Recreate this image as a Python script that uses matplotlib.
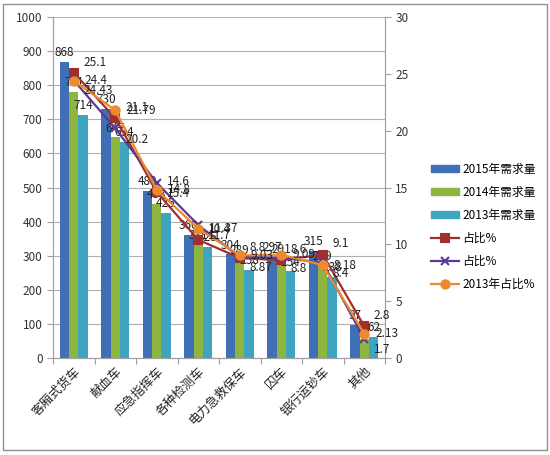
import numpy as np
import matplotlib.pyplot as plt
from matplotlib.patches import Rectangle
from matplotlib.lines import Line2D

plt.rcParams['font.family'] = ['Noto Sans CJK SC', 'DejaVu Sans']

# Categories and demand values
categories = ['客厢式货车', '献血车', '应急指挥车', '各种检测车',
              '电力急救保车', '囚车', '银行运钞车', '其他']
demand_2015 = [868, 730, 489, 360, 304, 297, 315, 97]
demand_2014 = [781, 647, 453, 331, 289, 291, 269, 55]
demand_2013 = [714, 634, 425, 325, 258, 254, 238, 62]

# Share (%) series
share_2015 = [25.1, 21.1, 14.6, 10.4, 8.8, 8.6, 9.1, 2.8]
share_2014 = [24.43, 20.2, 15.4, 11.7, 8.87, 8.8, 8.4, 1.7]
share_2013 = [24.4, 21.79, 14.8, 11.37, 9.03, 9.09, 8.18, 2.13]

bar_colors = ['#3F6FB5', '#8DB53F', '#3FA4C0']
line_colors = ['#A0302D', '#5B3A96', '#EE8A2E']

fig = plt.figure(figsize=(5.5, 4.55), dpi=100)
ax = fig.add_axes([0.0964, 0.2132, 0.6036, 0.7494])
ax2 = ax.twinx()

x = np.arange(len(categories))
w = 0.225

bar_sets = [demand_2015, demand_2014, demand_2013]
bar_names = ['2015年需求量', '2014年需求量', '2013年需求量']
for i, (vals, col) in enumerate(zip(bar_sets, bar_colors)):
    pos = x + (i - 1) * w
    ax.bar(pos, vals, width=w, color=col, zorder=2)
    for px, v in zip(pos, vals):
        ax.annotate(str(v), (px, v), xytext=(0, 2), textcoords='offset points',
                    ha='center', va='bottom', fontsize=8.5, color='#222222', zorder=5)

ax.set_xlim(-0.5, len(categories) - 0.5)
ax.set_ylim(0, 1000)
ax.set_yticks(range(0, 1001, 100))
ax.yaxis.grid(True, color='#B0B0B0', linewidth=0.8, zorder=0)
ax.set_axisbelow(True)
ax.set_xticks(np.arange(len(categories) + 1) - 0.5, minor=False)
ax.set_xticklabels([])
ax.set_xticks(x, minor=True)
ax.set_xticklabels(categories, minor=True, rotation=45, ha='right',
                   rotation_mode='anchor', fontsize=9, color='#222222')
ax.tick_params(axis='x', which='minor', length=0, pad=5)
ax.tick_params(axis='x', which='major', length=4, color='#A0A0A0')
ax.tick_params(axis='y', length=4, color='#A0A0A0', labelsize=8.5, labelcolor='#333333')

share_sets = [share_2015, share_2014, share_2013]
share_names = ['占比%', '占比%', '2013年占比%']
markers = ['s', 'x', 'o']
# label placement per line: (offset, vertical alignment)
label_pos = [((7, 3), 'bottom'), ((7, -3), 'top'), ((8, 0), 'center')]
for vals, col, mk, (off, va) in zip(share_sets, line_colors, markers, label_pos):
    ax2.plot(x, vals, color=col, linewidth=1.6, marker=mk, markersize=6,
             markeredgewidth=1.5, zorder=3)
    for px, v in zip(x, vals):
        ax2.annotate(f'{v:g}', (px, v), xytext=off, textcoords='offset points',
                     ha='left', va=va, fontsize=8.5, color='#222222', zorder=5)

ax2.set_ylim(0, 30)
ax2.set_yticks(range(0, 31, 5))
ax2.tick_params(axis='y', length=4, color='#A0A0A0', labelsize=8.5, labelcolor='#333333')

for a in (ax, ax2):
    a.spines['top'].set_visible(False)
    a.spines['left'].set_color('#A0A0A0')
    a.spines['right'].set_color('#A0A0A0')
    a.spines['bottom'].set_color('#A0A0A0')

# Legend
handles = [Rectangle((0, 0), 1, 1, color=c) for c in bar_colors]
handles += [Line2D([], [], color=c, marker=m, linewidth=1.6, markersize=6,
                   markeredgewidth=1.5) for c, m in zip(line_colors, markers)]
labels = bar_names + share_names
fig.legend(handles, labels, loc='center left', bbox_to_anchor=(0.765, 0.502),
           frameon=False, fontsize=8.5, handlelength=2.3, handleheight=0.6,
           labelspacing=0.85, handletextpad=0.3)

# Outer frame
fig.patches.append(Rectangle((0.005, 0.012), 0.99, 0.98, transform=fig.transFigure,
                             fill=False, edgecolor='#909090', linewidth=1.0))

fig.savefig('out.png', dpi=100)
